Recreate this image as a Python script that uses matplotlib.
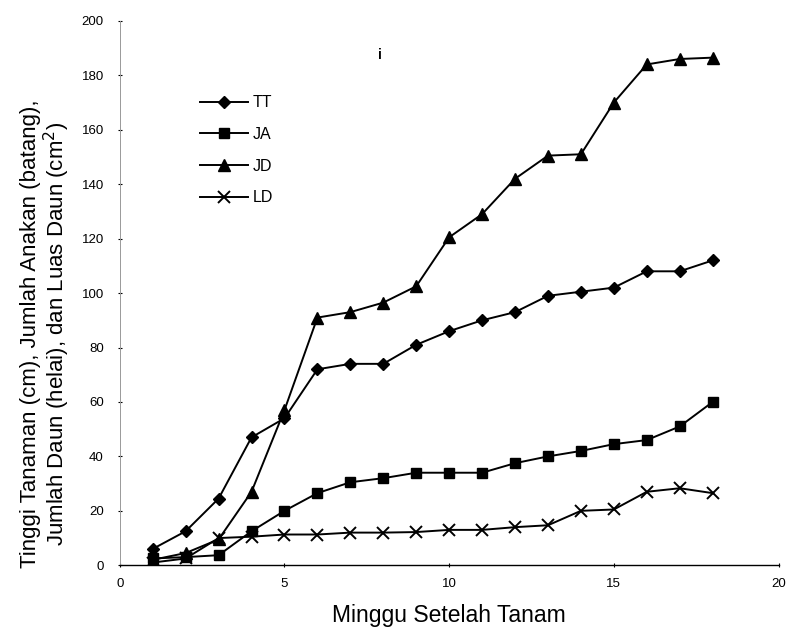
import matplotlib.pyplot as plt

plt.rcParams['font.family'] = ['Liberation Sans', 'DejaVu Sans']

minggu = list(range(1, 19))
tt = [6, 12.5, 24.5, 47, 54, 72, 74, 74, 81, 86, 90, 93, 99, 100.5, 102, 108, 108, 112]
ja = [2.5, 3, 3.7, 12.5, 20, 26.5, 30.5, 32, 34, 34, 34, 37.5, 40, 42, 44.5, 46, 51, 60]
jd = [2, 4.5, 9.5, 27, 57, 91, 93, 96.5, 102.5, 120.5, 129, 142, 150.5, 151, 170, 184, 186, 186.5]
ld = [1, 2.5, 10, 10.5, 11.3, 11.3, 12, 12, 12.2, 13, 13, 14, 14.7, 20, 20.5, 27, 28.3, 26.5]

fig = plt.figure(figsize=(7.88, 6.33), dpi=100)
ax = fig.add_axes([0.152, 0.107, 0.836, 0.86])

ax.plot(minggu, tt, 'k-', marker='D', markersize=6, lw=1.4, label='TT')
ax.plot(minggu, ja, 'k-', marker='s', markersize=7, lw=1.4, label='JA')
ax.plot(minggu, jd, 'k-', marker='^', markersize=8, lw=1.4, label='JD')
ax.plot(minggu, ld, 'k-', marker='x', markersize=9, mew=1.4, lw=1.4, label='LD')

ax.set_xlim(0, 20)
ax.set_ylim(0, 200)
ax.set_xticks([0, 5, 10, 15, 20])
ax.set_yticks(range(0, 201, 20))
ax.tick_params(labelsize=9.5, length=3, direction='inout', width=0.8)
ax.tick_params(axis='y', pad=10)
ax.tick_params(axis='x', pad=8)
for s in ['top', 'right']:
    ax.spines[s].set_visible(False)
ax.spines['left'].set_color('#999999')
ax.spines['left'].set_linewidth(0.7)
ax.spines['bottom'].set_linewidth(1.0)

ax.set_xlabel('Minggu Setelah Tanam', fontsize=16.5, labelpad=10)
ax.set_ylabel('Tinggi Tanaman (cm), Jumlah Anakan (batang),\n'
              'Jumlah Daun (helai), dan Luas Daun (cm$^2$)', fontsize=16,
              linespacing=1.0)
ax.yaxis.set_label_coords(-0.073, 0.425)
ax.text(7.85, 186, 'i', fontsize=10, fontweight='bold')

ax.legend(loc='upper left', bbox_to_anchor=(0.1, 0.89), frameon=False,
          fontsize=11.5, handlelength=3.0, labelspacing=1.05, handletextpad=0.3)

fig.savefig('out.png', dpi=100)
